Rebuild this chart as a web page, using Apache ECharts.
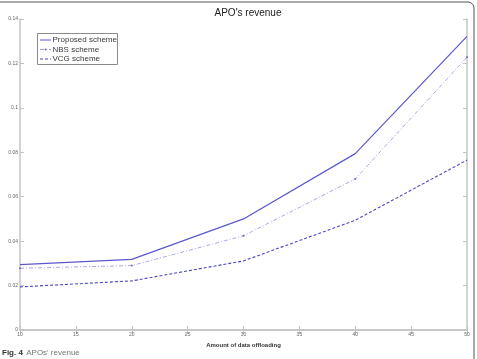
<!DOCTYPE html>
<html>
<head>
<meta charset="utf-8">
<script src="https://cdn.jsdelivr.net/npm/echarts@6/dist/echarts.min.js"></script>
<style>
  html, body { margin: 0; padding: 0; background: #fff; }
  #chart { width: 477px; height: 359px; }
</style>
</head>
<body>
<div id="chart"></div>
<script>
  // data
  var dataAmount = [10, 20, 30, 40, 50];
  var proposedRevenue = [0.0294, 0.0318, 0.0500, 0.0794, 0.1322];
  var nbsRevenue = [0.0278, 0.0290, 0.0424, 0.0680, 0.1228];
  var vcgRevenue = [0.0194, 0.0221, 0.0311, 0.0494, 0.0765];
  var seriesNames = ['Proposed scheme', 'NBS scheme', 'VCG scheme'];

  function pairs(ys) {
    return dataAmount.map(function (x, i) { return [x, ys[i]]; });
  }

  var font = 'Liberation Sans, Arial, sans-serif';
  var axisGray = '#c4c4c4';
  var colors = ['#5b58d0', '#a09de8', '#4a47cc'];
  var dashes = ['solid', [4, 2, 1, 2], [3, 2]];

  var chart = echarts.init(document.getElementById('chart'));

  var boxAxis = {
    axisLine: { show: true, lineStyle: { color: axisGray, width: 1.5 } },
    axisTick: { show: true, inside: true, length: 4, lineStyle: { color: axisGray } },
    splitLine: { show: false }
  };

  // hand-drawn legend box, matlab style
  var legendGraphics = [{
    type: 'rect',
    shape: { x: 37.5, y: 33.5, width: 80, height: 31 },
    style: { fill: '#fff', stroke: '#8a8a8a', lineWidth: 1 },
    z: 10
  }];
  seriesNames.forEach(function (name, i) {
    var y = 40 + i * 9.5;
    legendGraphics.push({
      type: 'line',
      shape: { x1: 40, y1: y, x2: 51, y2: y },
      style: { stroke: colors[i], lineWidth: 1, lineDash: dashes[i] === 'solid' ? null : dashes[i] },
      z: 11
    });
    if (i === 1) {
      legendGraphics.push({
        type: 'circle', shape: { cx: 45.5, cy: y, r: 1 },
        style: { fill: '#6a66d8' }, z: 11
      });
    }
    legendGraphics.push({
      type: 'text', x: 52.5, y: y, z: 11,
      style: { text: name, fontFamily: font, fontSize: 8, fill: '#3a3a3a', verticalAlign: 'middle' }
    });
  });

  chart.setOption({
    animation: false,
    backgroundColor: '#fff',
    title: {
      text: "APO's revenue",
      left: 243,
      top: 3,
      textAlign: 'center',
      textStyle: { fontFamily: font, fontSize: 10, fontWeight: 'normal', color: '#222' }
    },
    grid: { left: 20, right: 10, top: 19, bottom: 29, containLabel: false, outerBoundsMode: 'none' },
    xAxis: [
      Object.assign({
        type: 'value', min: 10, max: 50, interval: 5, position: 'bottom',
        name: 'Amount of data offloading',
        nameLocation: 'middle',
        nameGap: 10,
        nameTextStyle: { fontFamily: font, fontSize: 6, fontWeight: 'bold', color: '#333' },
        axisLabel: { fontFamily: font, fontSize: 5, color: '#666', margin: 2 }
      }, boxAxis),
      Object.assign({
        type: 'value', min: 10, max: 50, interval: 5, position: 'top',
        axisLabel: { show: false }
      }, boxAxis)
    ],
    yAxis: [
      Object.assign({
        type: 'value', min: 0, max: 0.14, interval: 0.02, position: 'left',
        name: "Percentage of APO's revenue from MNO (%)",
        nameLocation: 'middle',
        nameGap: 16,
        nameTextStyle: { fontFamily: font, fontSize: 6, fontWeight: 'bold', color: '#333' },
        axisLabel: { fontFamily: font, fontSize: 5, color: '#666', margin: 2 }
      }, boxAxis),
      Object.assign({
        type: 'value', min: 0, max: 0.14, interval: 0.02, position: 'right',
        axisLabel: { show: false }
      }, boxAxis)
    ],
    series: [
      {
        name: seriesNames[0], type: 'line', data: pairs(proposedRevenue),
        symbol: 'none',
        lineStyle: { width: 1.2, color: colors[0], type: dashes[0] }
      },
      {
        name: seriesNames[1], type: 'line', data: pairs(nbsRevenue),
        symbol: 'circle', symbolSize: 2,
        itemStyle: { color: '#6a66d8' },
        lineStyle: { width: 0.9, color: colors[1], type: dashes[1] }
      },
      {
        name: seriesNames[2], type: 'line', data: pairs(vcgRevenue),
        symbol: 'none',
        lineStyle: { width: 1.1, color: colors[2], type: dashes[2] }
      }
    ],
    graphic: legendGraphics.concat([
      {
        type: 'rect',
        shape: { x: -20, y: 2, width: 494, height: 380, r: 6 },
        style: { fill: 'none', stroke: '#555', lineWidth: 1 },
        silent: true
      },
      {
        type: 'text',
        left: 2,
        top: 347,
        style: {
          text: '{b|Fig. 4} {n|APOs\' revenue}',
          rich: {
            b: { fontFamily: font, fontSize: 8, fontWeight: 'bold', fill: '#333' },
            n: { fontFamily: font, fontSize: 8, fill: '#777' }
          }
        }
      }
    ])
  });
</script>
</body>
</html>
